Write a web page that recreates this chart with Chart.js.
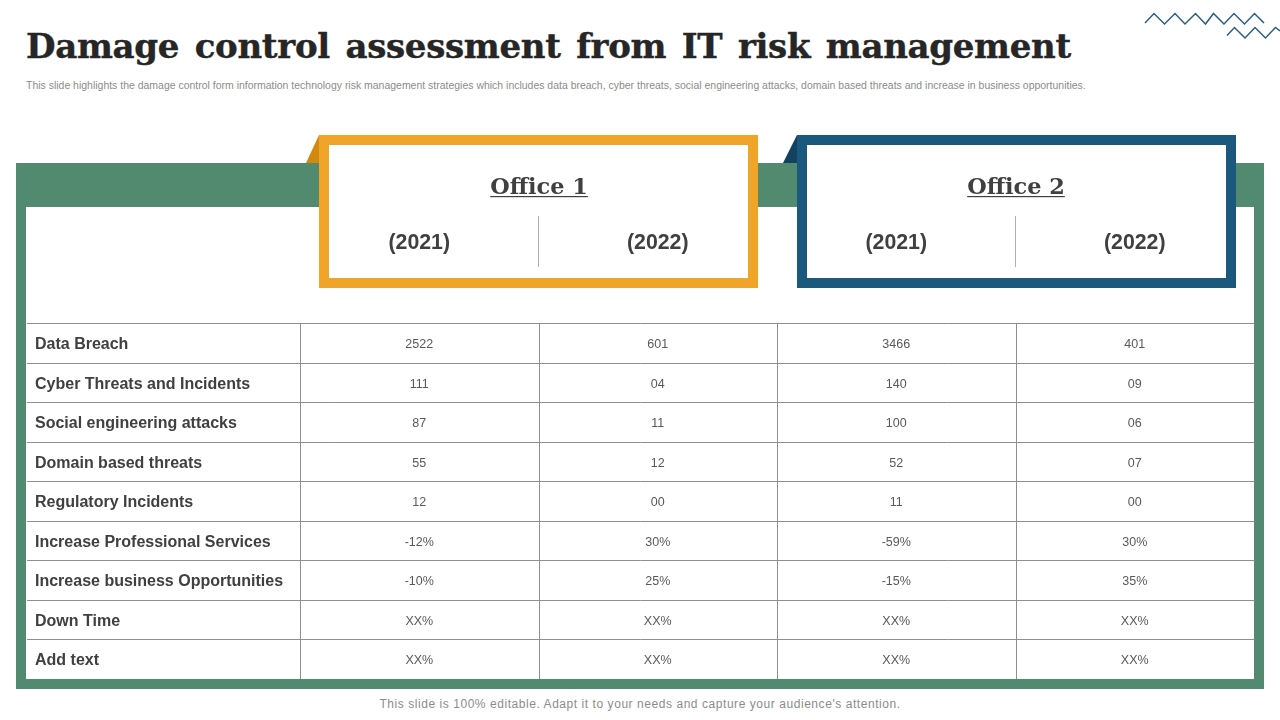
<!DOCTYPE html>
<html>
<head>
<meta charset="utf-8">
<title>Damage control assessment from IT risk management</title>
<script src="https://cdn.jsdelivr.net/npm/chart.js@4"></script>
<style>
html,body{margin:0;padding:0;background:#fff;width:1280px;height:720px;overflow:hidden}
body{position:relative;font-family:"Liberation Sans",Arial,sans-serif}
.abs{position:absolute}
#title{left:26px;top:24px;margin:0;font:bold 34px/44px "DejaVu Serif",serif;color:#262626;white-space:nowrap;word-spacing:4px;letter-spacing:-.3px;-webkit-text-stroke:.4px #262626}
#sub{left:26px;top:79px;font-size:10.48px;line-height:13px;color:#8c8c8c;white-space:nowrap}
#foot{left:0;width:1280px;text-align:center;top:697px;font-size:12px;line-height:15px;color:#8c8c8c;white-space:nowrap;letter-spacing:.555px}
#band{left:16px;top:163px;width:1248px;height:526px;background:#528a70}
#inner{left:26px;top:207px;width:1228px;height:472px;background:#fff}
.frame{top:135px;width:419px;height:133px;border:10px solid;background:#fff}
#f1{left:319px;border-color:#f0a428}
#f2{left:797px;border-color:#1a587e}
svg{left:0;top:0}
canvas{position:absolute;left:0;top:0}
</style>
</head>
<body>
<svg class="abs" width="1280" height="720">
  <polygon points="306,163 319,135 319,163" fill="#d08a12"/>
  <polygon points="783,163 797,135 797,163" fill="#12425f"/>
  <polyline points="1145,23 1154,13.5 1164.5,24 1175,13.5 1185,24 1195.5,13.5 1205.5,24 1213.5,13.5 1224,24 1234,13.5 1244.5,24 1254.5,13.5 1264,23" fill="none" stroke="#2d5f80" stroke-width="1.5"/>
  <polyline points="1227,35.5 1234.5,27.5 1245,38 1255,27.5 1265.5,38 1275.5,27.5 1280,31" fill="none" stroke="#2d5f80" stroke-width="1.5"/>
</svg>
<div class="abs" id="band"></div>
<div class="abs" id="inner"></div>
<div class="abs frame" id="f1"></div>
<div class="abs frame" id="f2"></div>
<h1 class="abs" id="title">Damage control assessment from IT risk management</h1>
<div class="abs" id="sub">This slide highlights the damage control form information technology risk management strategies which includes data breach, cyber threats, social engineering attacks, domain based threats and increase in business opportunities.</div>
<div class="abs" id="foot">This slide is 100% editable. Adapt it to your needs and capture your audience's attention.</div>
<canvas id="c" width="1280" height="720"></canvas>
<script>
const rows = ["Data Breach","Cyber Threats and Incidents","Social engineering attacks","Domain based threats","Regulatory Incidents","Increase Professional Services","Increase business Opportunities","Down Time","Add text"];
const offices = ["Office 1","Office 2"];
const years = ["(2021)","(2022)","(2021)","(2022)"];
const office1y2021 = ["2522","111","87","55","12","-12%","-10%","XX%","XX%"];
const office1y2022 = ["601","04","11","12","00","30%","25%","XX%","XX%"];
const office2y2021 = ["3466","140","100","52","11","-59%","-15%","XX%","XX%"];
const office2y2022 = ["401","09","06","07","00","30%","35%","XX%","XX%"];
const series = [office1y2021, office1y2022, office2y2021, office2y2022];
const gridColor = "#8f8f8f";
const labelColumnUnits = 1.149;

const tableText = {
  id: "tableText",
  afterDatasetsDraw(chart) {
    const ctx = chart.ctx, x = chart.scales.x;
    ctx.save();
    ctx.textBaseline = "middle";
    ctx.textAlign = "center";
    ctx.font = '12.5px "Liberation Sans"';
    ctx.fillStyle = "#595959";
    series.forEach((vals, s) => {
      chart.getDatasetMeta(s).data.forEach((pt, r) => ctx.fillText(vals[r], pt.x - 0.5, pt.y + 1.5));
    });
    // header: years
    ctx.font = 'bold 21.3px "Liberation Sans"';
    ctx.fillStyle = "#404040";
    years.forEach((y, i) => ctx.fillText(y, x.getPixelForValue(i + 0.5) - 0.5, 243));
    // header: offices, dividers
    offices.forEach((o, i) => {
      const cx = x.getPixelForValue(2 * i + 1);
      ctx.font = 'bold 22.4px "DejaVu Serif"';
      ctx.fillStyle = "#404040";
      ctx.fillText(o, cx, 188);
      const w = ctx.measureText(o).width;
      ctx.fillRect(cx - w / 2, 196, w, 1.2);
      ctx.fillStyle = "#b0b0b0";
      ctx.fillRect(Math.round(cx) - 1, 216, 1, 51);
    });
    ctx.restore();
  }
};

new Chart(document.getElementById("c"), {
  type: "scatter",
  plugins: [tableText],
  data: {
    labels: rows,
    datasets: series.map((vals, s) => ({
      label: offices[s >> 1] + " " + years[s],
      data: vals.map((v, r) => ({ x: s + 0.5, y: rows[r] })),
      pointRadius: 0,
      pointHoverRadius: 0
    }))
  },
  options: {
    responsive: false,
    animation: false,
    devicePixelRatio: 1,
    layout: { padding: { left: 26.5, right: 25.5, top: 323.5, bottom: 41 } },
    plugins: { legend: { display: false }, tooltip: { enabled: false } },
    events: [],
    scales: {
      x: {
        type: "linear",
        min: -labelColumnUnits,
        max: 4,
        afterBuildTicks(s) { s.ticks = [0, 1, 2, 3].map(v => ({ value: v })); },
        afterFit(s) { s.height = 0; },
        grid: { color: gridColor, lineWidth: 1, drawTicks: false },
        border: { display: false },
        ticks: { display: false }
      },
      y: {
        type: "category",
        labels: rows,
        offset: true,
        afterFit(s) { s.width = 0; },
        grid: { offset: true, color: c => c.tick ? gridColor : "transparent", lineWidth: 1, drawTicks: false },
        border: { display: false },
        ticks: {
          mirror: true,
          padding: 8.5,
          labelOffset: 1.5,
          color: "#404040",
          autoSkip: false,
          font: { family: '"Liberation Sans"', size: 16, weight: "bold" }
        }
      }
    }
  }
});
</script>
</body>
</html>
